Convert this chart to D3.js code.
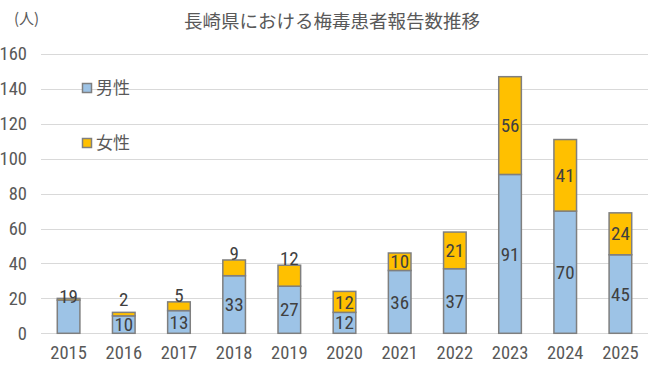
<!DOCTYPE html>
<html><head><meta charset="utf-8">
<script src="https://cdn.jsdelivr.net/npm/d3@7"></script>
<style>
body{margin:0;background:#fff;}
svg{display:block;}
</style></head>
<body>
<svg id="chart" width="665" height="382"></svg>
<script>
const years = ["2015","2016","2017","2018","2019","2020","2021","2022","2023","2024","2025"];
const male = [19,10,13,33,27,12,36,37,91,70,45];
const female = [1,2,5,9,12,12,10,21,56,41,24];
const maleLabels = ["19","10","13","33","27","12","36","37","91","70","45"];
const femaleLabels = [null,"2","5","9","12","12","10","21","56","41","24"];
const yTicks = [0,20,40,60,80,100,120,140,160];
const seriesNames = ["男性","女性"];
const title = "長崎県における梅毒患者報告数推移";
const unitLabel = "(人)";
// years whose small labels sit above the bar
const labelAbove = new Set(["2015","2016","2017","2018","2019"]);

const colors = {male:"#9DC3E6", female:"#FFC000", stroke:"#7F7F7F", grid:"#D9D9D9", text:"#595959", label:"#404040"};
const cjk = "'Noto Sans CJK JP','Noto Sans CJK SC',sans-serif";
const narrow = "'Liberation Sans Narrow','Arial Narrow','Roboto Condensed',Roboto,sans-serif";

const svg = d3.select("#chart");
const L = 41, R = 648, T = 54, B = 333.3;

const x = d3.scaleBand().domain(years).range([L, R]).paddingInner(0.59).paddingOuter(0.295);
const y = d3.scaleLinear().domain([0,160]).range([B, T]);

// gridlines
svg.append("g").selectAll("line").data(yTicks).join("line")
  .attr("x1", L).attr("x2", R)
  .attr("y1", d => Math.round(y(d))+0.5).attr("y2", d => Math.round(y(d))+0.5)
  .attr("stroke", colors.grid).attr("stroke-width", 1);

// y axis labels
const yAxis = d3.axisLeft(y).tickValues(yTicks).tickSize(0).tickPadding(14);
const ya = svg.append("g").attr("transform", `translate(${L},0)`).call(yAxis);
ya.select(".domain").remove();
ya.selectAll("text").attr("font-family", narrow).attr("font-size", 18.5).attr("fill", colors.text);

// x axis labels
const xAxis = d3.axisBottom(x).tickSize(0).tickPadding(13);
const xa = svg.append("g").attr("transform", `translate(0,${B})`).call(xAxis);
xa.select(".domain").remove();
xa.selectAll("text").attr("font-family", narrow).attr("font-size", 18.5).attr("fill", colors.text);

const data = years.map((yr,i) => ({yr, m: male[i], f: female[i], ml: maleLabels[i], fl: femaleLabels[i]}));

const bars = svg.append("g");
bars.selectAll("rect.m").data(data).join("rect").attr("class","m")
  .attr("x", d => x(d.yr)).attr("width", x.bandwidth())
  .attr("y", d => y(d.m)).attr("height", d => y(0) - y(d.m))
  .attr("fill", colors.male).attr("stroke", colors.stroke).attr("stroke-width", 1.5);
bars.selectAll("rect.f").data(data).join("rect").attr("class","f")
  .attr("x", d => x(d.yr)).attr("width", x.bandwidth())
  .attr("y", d => y(d.m + d.f)).attr("height", d => y(d.m) - y(d.m + d.f))
  .attr("fill", colors.female).attr("stroke", colors.stroke).attr("stroke-width", 1.5);

const lab = svg.append("g").attr("font-family", narrow).attr("font-size", 19).attr("fill", colors.label).attr("text-anchor","middle");
data.forEach(d => {
  const cx = x(d.yr) + x.bandwidth()/2;
  if (d.fl === null) {
    lab.append("text").attr("x", cx).attr("y", y(d.m + d.f) - 2).attr("dy","0.35em").text(d.ml);
  } else {
    const my = (y(0)+y(d.m))/2;
    lab.append("text").attr("x", cx).attr("y", my).attr("dy","0.35em").text(d.ml);
    const fy = labelAbove.has(d.yr) ? Math.min(y(d.m + d.f) - 7, my - 25) : (y(d.m) + y(d.m + d.f))/2;
    lab.append("text").attr("x", cx).attr("y", fy).attr("dy","0.35em").text(d.fl);
  }
});

// legend
const legendY = [88, 143];
const lg = svg.append("g");
seriesNames.forEach((n,i) => {
  lg.append("rect").attr("x", 82.5).attr("y", legendY[i]-4.5).attr("width", 9).attr("height", 9)
    .attr("fill", i===0 ? colors.male : colors.female).attr("stroke", colors.stroke).attr("stroke-width", 1.5);
  lg.append("text").attr("x", 96).attr("y", legendY[i]).attr("dy","0.36em")
    .attr("font-family", cjk).attr("font-size", 17).attr("fill", colors.text).text(n);
});

// title
svg.append("text").attr("x", 332).attr("y", 21).attr("dy","0.36em").attr("text-anchor","middle")
  .attr("font-family", cjk).attr("font-size", 18.5).attr("fill", colors.text).text(title);
svg.append("text").attr("x", 14).attr("y", 19).attr("dy","0.36em")
  .attr("font-family", cjk).attr("font-size", 15).attr("fill", colors.text).text(unitLabel);
</script>
</body></html>
